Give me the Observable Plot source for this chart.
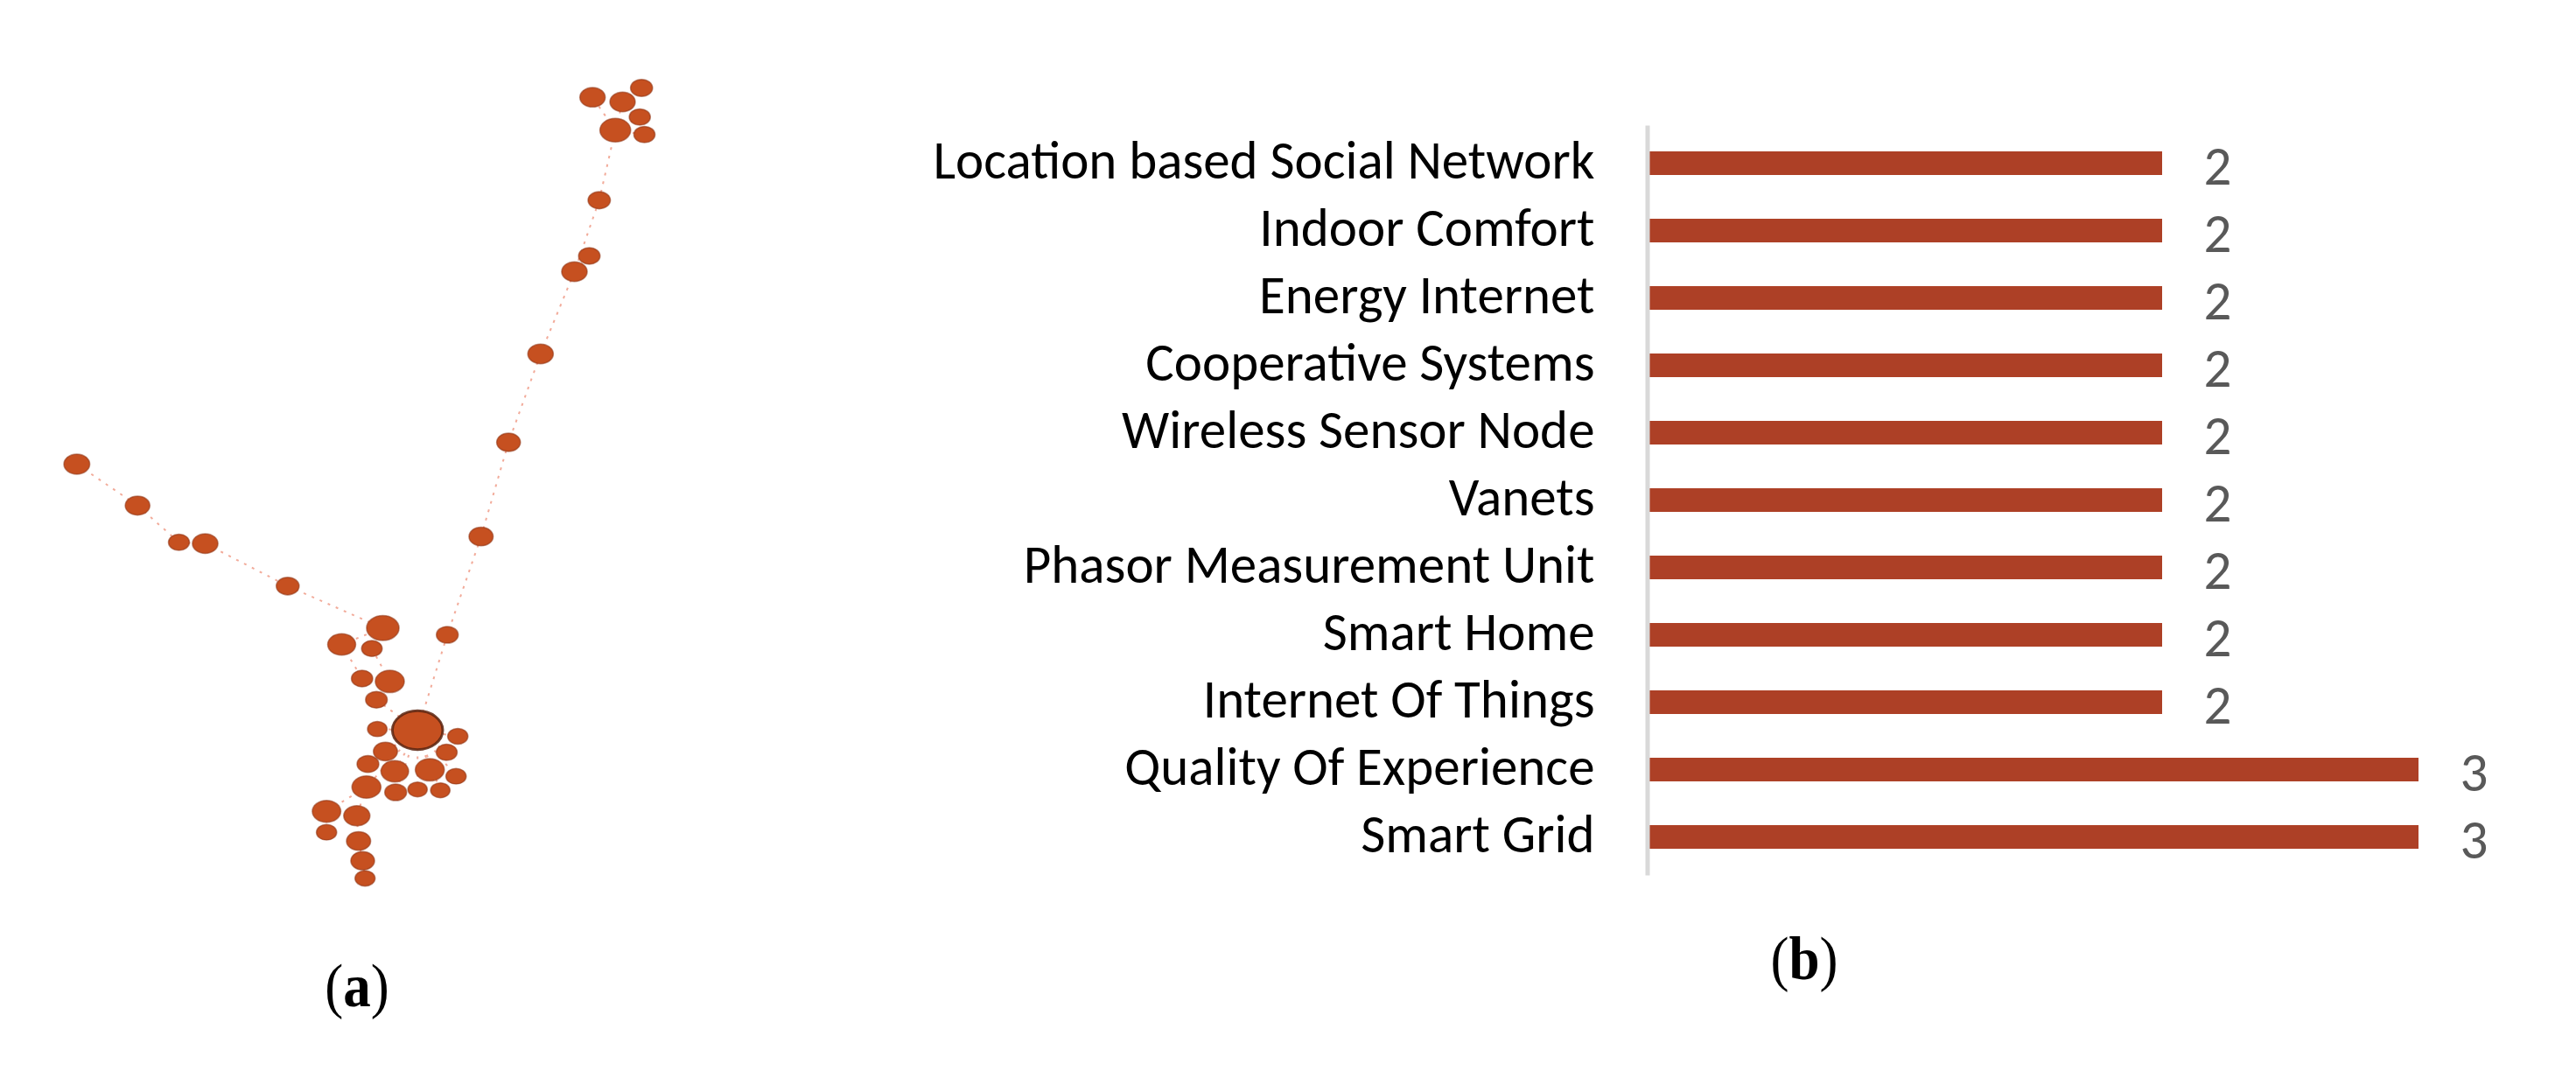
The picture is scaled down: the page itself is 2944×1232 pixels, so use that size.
<!DOCTYPE html>
<html>
<head>
<meta charset="utf-8">
<script src="https://cdn.jsdelivr.net/npm/d3@7"></script>
<script src="https://cdn.jsdelivr.net/npm/@observablehq/plot@0.6"></script>
<style>
  html, body { margin: 0; padding: 0; background: #fff; }
  #wrap { position: relative; width: 2944px; height: 1232px; background: #fff; overflow: hidden; }
  #panelA { position: absolute; left: 0; top: 0; }
  #panelB { position: absolute; left: 1000px; top: 0; }
  #wrap svg { max-width: none; }
  .lab { position: absolute; font-family: "Liberation Serif", "DejaVu Serif", serif; font-size: 70px; line-height: 1; color: #000; transform: translate(-50%, -50%) scaleX(0.9); white-space: nowrap; }
  .lab b { font-weight: 700; }
</style>
</head>
<body>
<div id="wrap">
  <div id="panelA"></div>
  <div id="panelB"></div>
  <div class="lab" style="left:408px; top:1127px;">(<b>a</b>)</div>
  <div class="lab" style="left:2062px; top:1096px;">(<b>b</b>)</div>
</div>
<script>
// ---------- Panel (a): keyword co-occurrence network (node positions) ----------
const nodeX = [676.7, 711, 732.7, 730.7, 702.7, 736, 684.3, 673, 656, 617.3, 580.7, 549.3, 510.7,
  87.3, 156.7, 204, 234, 328.3, 437, 390, 424.5, 413.3, 445, 429.7, 430.7, 476.7, 522.7, 440, 510,
  420, 450.7, 490.7, 520.7, 418.3, 451.7, 476.7, 502.7, 372.7, 407.3, 372.7, 409.3, 414, 416.7];
const nodeY = [110.7, 116, 100, 133.3, 148.3, 153.3, 228.3, 292, 310, 404, 505, 612.7, 725,
  530, 577.3, 619.3, 620.7, 669.3, 717.3, 736, 740.7, 775, 778.3, 799.2, 832.7, 834, 841, 858.3, 859.3,
  872.7, 881, 879.3, 886.7, 899, 905, 901.7, 902.7, 926.7, 931.7, 950.7, 960.7, 983.3, 1003.3];
const nodeR = [14.5, 14.5, 12.6, 12.1, 17.6, 12.1, 12.8, 12.3, 14.6, 14.6, 13.6, 13.8, 12.5,
  14.8, 14.1, 12, 14.6, 13.1, 18.6, 16, 11.8, 12.2, 16.6, 12.4, 11.2, 28.8, 11.6, 13.8, 12,
  12.5, 15.8, 16.6, 11.6, 16.6, 12.5, 11.1, 11.1, 16.3, 15, 11.6, 13.8, 13.6, 11.5];
const edgeSource = [4, 4, 1, 4, 4, 4, 6, 8, 8, 9, 10, 11, 12,
  13, 14, 15, 16, 17, 18, 18, 19, 20, 23, 25, 25, 25, 25, 25, 25, 25, 25, 25, 25, 25, 25,
  33, 37, 33, 38, 40, 41];
const edgeTarget = [0, 1, 2, 3, 5, 6, 8, 7, 9, 10, 11, 12, 25,
  14, 15, 16, 17, 18, 19, 20, 21, 22, 25, 24, 27, 28, 26, 30, 31, 29, 34, 35, 36, 32, 33,
  37, 39, 38, 40, 41, 42];

// ---------- Panel (b): keyword frequency ----------
const categories = ["Location based Social Network", "Indoor Comfort", "Energy Internet",
  "Cooperative Systems", "Wireless Sensor Node", "Vanets", "Phasor Measurement Unit",
  "Smart Home", "Internet Of Things", "Quality Of Experience", "Smart Grid"];
const counts = [2, 2, 2, 2, 2, 2, 2, 2, 2, 3, 3];

// ----- build panel (a) -----
const nodes = nodeX.map((x, i) => ({x, y: nodeY[i], r: nodeR[i], hub: nodeR[i] > 20}));
const edges = edgeSource.map((s, i) => ({
  x1: nodeX[s], y1: nodeY[s], x2: nodeX[edgeTarget[i]], y2: nodeY[edgeTarget[i]]
}));

const ellipse = {
  draw(ctx, size) {
    const rx = Math.sqrt(size / Math.PI), ry = rx / 1.3, k = 0.5522847;
    ctx.moveTo(rx, 0);
    ctx.bezierCurveTo(rx, ry * k, rx * k, ry, 0, ry);
    ctx.bezierCurveTo(-rx * k, ry, -rx, ry * k, -rx, 0);
    ctx.bezierCurveTo(-rx, -ry * k, -rx * k, -ry, 0, -ry);
    ctx.bezierCurveTo(rx * k, -ry, rx, -ry * k, rx, 0);
    ctx.closePath();
  }
};

const W_A = 900, H_A = 1060;
const plotA = Plot.plot({
  width: W_A, height: H_A,
  margin: 0,
  x: {domain: [0, W_A], range: [0, W_A], axis: null},
  y: {domain: [0, H_A], range: [0, H_A], axis: null},
  r: {type: "identity"},
  style: {background: "transparent"},
  marks: [
    Plot.link(edges, {x1: "x1", y1: "y1", x2: "x2", y2: "y2",
      stroke: "#ee8f78", strokeWidth: 2, strokeOpacity: 0.75, strokeDasharray: "3,7"}),
    Plot.dot(nodes.filter(d => !d.hub), {x: "x", y: "y", r: "r", symbol: ellipse,
      fill: "#c65020", stroke: "#8e3516", strokeWidth: 1.5, strokeOpacity: 0.55}),
    Plot.dot(nodes.filter(d => d.hub), {x: "x", y: "y", r: "r", symbol: ellipse,
      fill: "#c65020", stroke: "#5a2410", strokeWidth: 3, strokeOpacity: 0.85})
  ]
});
document.getElementById("panelA").appendChild(plotA);

// ----- build panel (b) -----
const rows = categories.map((c, i) => ({cat: c, n: counts[i]}));
const W_B = 1944, H_B = 1040;
const plotB = Plot.plot({
  width: W_B, height: H_B,
  marginLeft: 885, marginRight: 180, marginTop: 143.5, marginBottom: 39.5,
  style: {fontFamily: "Carlito, Lato, 'Open Sans', sans-serif", fontSize: "61px", color: "#000", background: "transparent"},
  x: {domain: [0, 3], axis: null},
  y: {domain: categories, paddingInner: 0.647, paddingOuter: 0.3235, label: null},
  marks: [
    Plot.barX(rows, {x: "n", y: "cat", fill: "#ad4026"}),
    Plot.ruleX([0], {stroke: "#d9d9d9", strokeWidth: 5, dx: -2.5}),
    Plot.axisY({tickSize: 0, tickPadding: 63, fontSize: 61, fill: "#000", label: null, dy: -3}),
    Plot.text(rows, {x: "n", y: "cat", text: d => String(d.n), textAnchor: "start",
      dx: 47, dy: 4, fill: "#595959", fontSize: 63})
  ]
});
document.getElementById("panelB").appendChild(plotB);
</script>
</body>
</html>
